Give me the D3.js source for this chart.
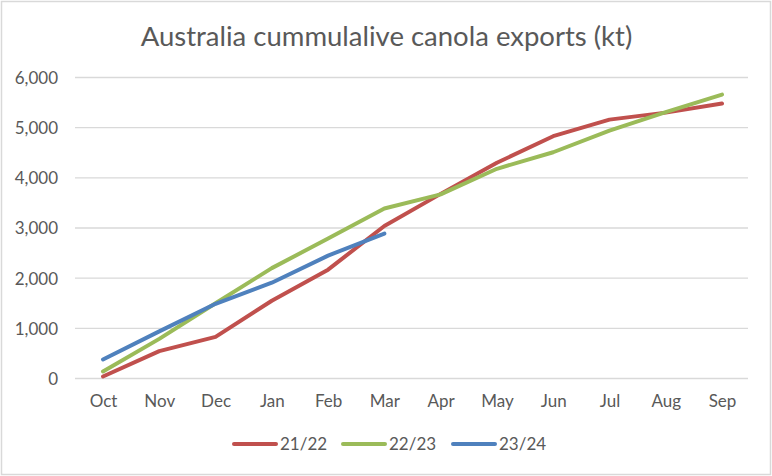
<!DOCTYPE html>
<html><head><meta charset="utf-8">
<script src="https://cdn.jsdelivr.net/npm/d3@7"></script>
<style>body{margin:0;background:#fff}svg{display:block}text{font-family:Lato,"Open Sans",sans-serif;fill:#595959}</style>
</head><body><svg id="c" width="772" height="476"></svg>
<script>
const months = ["Oct","Nov","Dec","Jan","Feb","Mar","Apr","May","Jun","Jul","Aug","Sep"];
const s2122 = [40,545,830,1550,2170,3040,3680,4300,4830,5160,5300,5480];
const s2223 = [140,790,1500,2200,2790,3390,3670,4180,4510,4940,5310,5660];
const s2324 = [380,940,1490,1910,2450,2890];
const seriesNames = ["21/22","22/23","23/24"];
const seriesColors = ["#C0504D","#9BBB59","#4F81BD"];
const yTicks = [0,1000,2000,3000,4000,5000,6000];
const title = "Australia cummulalive canola exports (kt)";

const svg = d3.select("#c");
svg.append("rect").attr("x",1.5).attr("y",1.5).attr("width",769).attr("height",473)
  .attr("fill","#fff").attr("stroke","#d9d9d9").attr("stroke-width",1.5);

const x = d3.scalePoint().domain(months).range([103,722]);
const y = d3.scaleLinear().domain([0,6000]).range([378.5,77.5]);

svg.append("g").selectAll("line").data(yTicks).join("line")
  .attr("x1",75).attr("x2",748).attr("y1",d=>y(d)).attr("y2",d=>y(d))
  .attr("stroke","#d9d9d9").attr("stroke-width",1.3);

const yAxis = d3.axisLeft(y).tickValues(yTicks).tickFormat(d3.format(",")).tickSize(0).tickPadding(0);
const gy = svg.append("g").attr("transform","translate(58,0)").call(yAxis);
gy.select(".domain").remove();
gy.selectAll("text").style("font-size","17px").attr("fill","#595959").attr("dy","0.35em");

const xAxis = d3.axisBottom(x).tickSize(0).tickPadding(0);
const gx = svg.append("g").attr("transform","translate(0,395)").call(xAxis);
gx.select(".domain").remove();
gx.selectAll("text").style("font-size","17px").attr("fill","#595959").attr("dy","0.7em");

const line = d3.line().x((d,i)=>x(months[i])).y(d=>y(d));
[s2122,s2223,s2324].forEach((s,k)=>{
  svg.append("path").datum(s).attr("d",line).attr("fill","none")
    .attr("stroke",seriesColors[k]).attr("stroke-width",4).attr("stroke-linecap","round").attr("stroke-linejoin","round");
});

svg.append("text").attr("x",386.5).attr("y",46).attr("text-anchor","middle")
  .style("font-size","27.5px").text(title);

const legX = [233,342,452];
seriesNames.forEach((n,k)=>{
  svg.append("line").attr("x1",legX[k]+1).attr("x2",legX[k]+43).attr("y1",444).attr("y2",444)
    .attr("stroke",seriesColors[k]).attr("stroke-width",4).attr("stroke-linecap","round");
  svg.append("text").attr("x",legX[k]+47).attr("y",444).attr("dy","0.35em")
    .style("font-size","17px").text(n);
});
</script></body></html>
